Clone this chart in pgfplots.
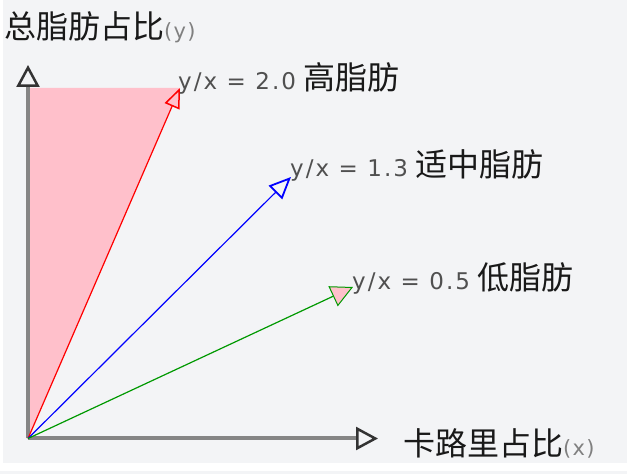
\documentclass[border=0pt]{standalone}
\usepackage{pgfplots}
\pgfplotsset{compat=1.18}
\usetikzlibrary{arrows.meta}
\usepackage{fontspec}
\setmainfont{DejaVu Sans}
\newfontfamily\cjk{Noto Sans CJK SC}
\definecolor{bg}{HTML}{F3F4F6}
\definecolor{pinkfill}{HTML}{FFC0CB}
\definecolor{axgray}{HTML}{858585}
\definecolor{lblgray}{HTML}{505050}
\newcommand{\lat}[1]{{\fontsize{23bp}{26bp}\selectfont\addfontfeature{LetterSpace=9}\color{lblgray}#1}}
\newcommand{\zh}[1]{{\fontsize{32bp}{34bp}\selectfont\cjk\color{black!90}#1}}
\newcommand{\sm}[1]{{\fontsize{21bp}{24bp}\selectfont\addfontfeature{LetterSpace=6}\color{gray}#1}}
\begin{document}
\begin{tikzpicture}
\begin{axis}[width=627bp,height=474bp,scale only axis,
  xmin=0,xmax=627,ymin=0,ymax=474,hide axis,clip=false]
% background
\addplot[fill=white,draw=none] coordinates {(0,0)(627,0)(627,474)(0,474)} -- cycle;
\addplot[fill=bg,draw=none] coordinates {(3,11)(627,11)(627,474)(3,474)} -- cycle;
\addplot[fill=bg,draw=none] coordinates {(0,0)(627,0)(627,3)(0,3)} -- cycle;
% high fat area
\addplot[fill=pinkfill,draw=none] coordinates {(28,35.5)(28,386)(180,386)} -- cycle;
% axes
\addplot[axgray,line width=4bp,-{Triangle[open,length=22bp,width=23bp,line width=2.5bp,color=black!80,fill=bg]}] coordinates {(28,35.5)(28,409)};
\addplot[axgray,line width=4bp,-{Triangle[open,length=22bp,width=23bp,line width=2.5bp,color=black!80,fill=bg]}] coordinates {(28,35.5)(378,35.5)};
% ratio lines
\addplot[red,line width=1.2bp,-{Triangle[open,length=20bp,width=16bp,line width=1.5bp,fill=pinkfill]}] coordinates {(28,35.5)(180,386)};
\addplot[blue,line width=1.2bp,-{Triangle[open,length=22bp,width=19bp,line width=1.8bp,fill=bg]}] coordinates {(28,35.5)(291,297)};
\addplot[green!60!black,line width=1.2bp,-{Triangle[length=22bp,width=22bp,line width=1bp,fill=pinkfill]}] coordinates {(28,35.5)(353,187)};
% labels
\node[anchor=west,inner sep=0] at (axis cs:4,447) {\zh{总脂肪占比}\sm{(y)}};
\node[anchor=west,inner sep=0] at (axis cs:178,396) {\lat{y/x = 2.0}\hspace{7bp}\zh{高脂肪}};
\node[anchor=west,inner sep=0] at (axis cs:290,309) {\lat{y/x = 1.3}\hspace{7bp}\zh{适中脂肪}};
\node[anchor=west,inner sep=0] at (axis cs:352,196) {\lat{y/x = 0.5}\hspace{7bp}\zh{低脂肪}};
\node[anchor=west,inner sep=0] at (axis cs:403,31) {\zh{卡路里占比}\sm{(x)}};
\end{axis}
\end{tikzpicture}
\end{document}
